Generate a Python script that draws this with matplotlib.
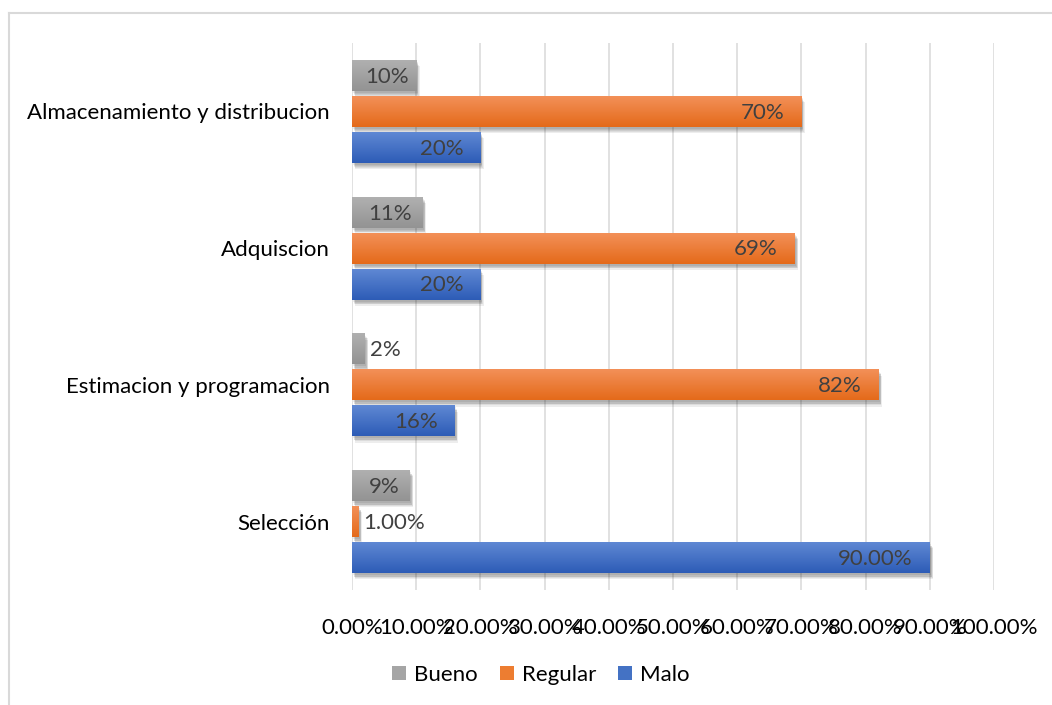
import numpy as np
import matplotlib
matplotlib.use("Agg")
import matplotlib.pyplot as plt
import matplotlib.patheffects as pe
from matplotlib.colors import LinearSegmentedColormap
from matplotlib.patches import Patch
from matplotlib.lines import Line2D

# Survey results per process stage (percent of responses)
categories = ["Selección", "Estimacion y programacion", "Adquiscion",
              "Almacenamiento y distribucion"]
series_names = ["Bueno", "Regular", "Malo"]
bueno = [9, 2, 11, 10]
regular = [1.00, 82, 69, 70]
malo = [90.00, 16, 20, 20]
# decimals shown in each data label
bueno_decimals = [0, 0, 0, 0]
regular_decimals = [2, 0, 0, 0]
malo_decimals = [2, 0, 0, 0]
x_ticks = list(range(0, 101, 10))
x_tick_labels = [f"{t:.2f}%" for t in x_ticks]

plt.rcParams["font.family"] = ["Lato", "DejaVu Sans"]
FS = 16

W, H, DPI = 1052, 705, 100
fig = plt.figure(figsize=(W / DPI, H / DPI), dpi=DPI)
ax = fig.add_axes([352 / W, 1 - 590 / H, (994 - 352) / W, (590 - 43) / H])

# (top colour, bottom colour) of each series' vertical gradient
gradients = {
    "Bueno": ("#b0b0b0", "#939393"),
    "Regular": ("#f39058", "#e46a1a"),
    "Malo": ("#5f88d4", "#2d5cb6"),
}
mid_colors = {"Bueno": "#a5a5a5", "Regular": "#ed7d31", "Malo": "#4472c4"}

values = {"Bueno": bueno, "Regular": regular, "Malo": malo}
decimals = {"Bueno": bueno_decimals, "Regular": regular_decimals,
            "Malo": malo_decimals}
offsets = {"Bueno": 0.263, "Regular": 0.0, "Malo": -0.263}
bar_h = 0.226

y = np.arange(len(categories))
shadow = [pe.SimplePatchShadow(offset=(dx, dy), shadow_rgbFace="black", alpha=0.07)
          for dx, dy in [(1, -1.5), (1.5, -2.5), (2, -3.5), (2.5, -4.5), (1.5, -3)]]
shadow.append(pe.Normal())

label_color = "#404040"
px = 100.0 / (994 - 352)  # one pixel in data units along x

for name in series_names:
    vals = values[name]
    bars = ax.barh(y + offsets[name], vals, height=bar_h,
                   color=mid_colors[name], zorder=2.5, linewidth=0)
    top_c, bot_c = gradients[name]
    cmap = LinearSegmentedColormap.from_list(name, [bot_c, top_c])
    grad = np.linspace(0, 1, 64).reshape(-1, 1)
    for b, v, d in zip(bars, vals, decimals[name]):
        b.set_path_effects(shadow)
        x0, y0, w, h = b.get_x(), b.get_y(), b.get_width(), b.get_height()
        im = ax.imshow(grad, cmap=cmap, extent=[x0, x0 + w, y0, y0 + h],
                       origin="lower", aspect="auto", zorder=3,
                       interpolation="bilinear")
        im.set_clip_path(b)
        text = f"{v:.{d}f}%"
        yc = y0 + h / 2 - 0.01
        if v < 5:
            ax.text(v + 5 * px, yc, text, ha="left", va="center",
                    fontsize=FS, color=label_color, zorder=4)
        elif name == "Bueno":
            ax.text(v / 2 + 3 * px, yc, text, ha="center", va="center",
                    fontsize=FS, color=label_color, zorder=4)
        else:
            ax.text(v - 17 * px, yc, text, ha="right", va="center",
                    fontsize=FS, color=label_color, zorder=4)

ax.set_xlim(0, 100)
ax.set_ylim(-0.5, len(categories) - 0.5)
ax.set_xticks(x_ticks)
ax.set_xticklabels(x_tick_labels)
ax.set_yticks(y)
ax.set_yticklabels(categories)
ax.tick_params(axis="both", length=0, labelsize=FS, colors="#000000")
ax.tick_params(axis="x", pad=20)
ax.tick_params(axis="y", pad=16)
ax.xaxis.grid(True, color="#d9d9d9", linewidth=1.1)
ax.yaxis.grid(False)
ax.set_axisbelow(True)
for s in ax.spines.values():
    s.set_visible(False)

handles = [Patch(facecolor=mid_colors[n], edgecolor="none", label=n)
           for n in series_names]
fig.legend(handles=handles, loc="center", bbox_to_anchor=(541 / W, 1 - 675 / H),
           ncol=3, frameon=False, fontsize=FS, handlelength=0.63,
           handleheight=0.63, handletextpad=0.35, columnspacing=1.0)

# chart border (top and left edges)
fig.add_artist(Line2D([9.5 / W, 9.5 / W], [0, 1 - 13 / H], color="#d9d9d9",
                      linewidth=1.5, transform=fig.transFigure))
fig.add_artist(Line2D([9.5 / W, 1], [1 - 13 / H, 1 - 13 / H], color="#d9d9d9",
                      linewidth=1.5, transform=fig.transFigure))

fig.savefig("out.png", dpi=DPI, facecolor="white")
